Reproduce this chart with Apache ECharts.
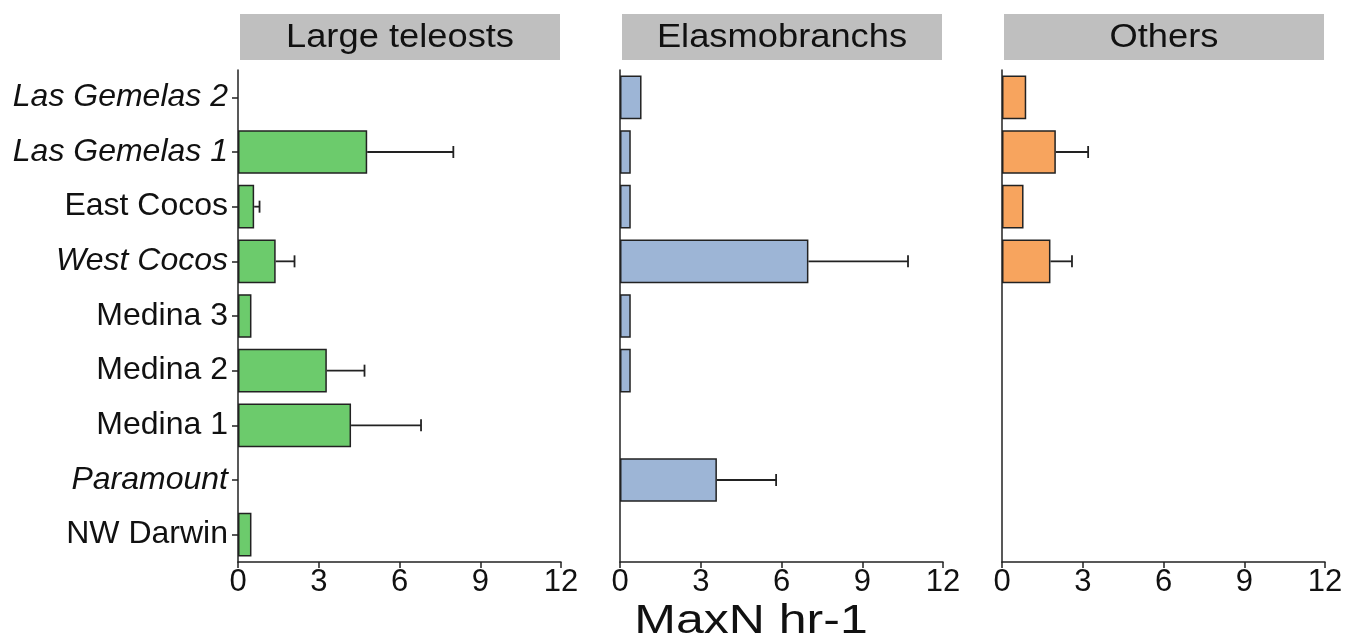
<!DOCTYPE html>
<html><head><meta charset="utf-8">
<script src="https://cdn.jsdelivr.net/npm/echarts@6/dist/echarts.min.js"></script>
<style>html,body{margin:0;padding:0;background:#fff}#c{width:1359px;height:640px}</style>
</head><body><div id="c"></div>
<script>
const categories = ['Las Gemelas 2','Las Gemelas 1','East Cocos','West Cocos','Medina 3','Medina 2','Medina 1','Paramount','NW Darwin'];
const italicCats = ['Las Gemelas 2','Las Gemelas 1','West Cocos','Paramount'];
const panelTitles = ['Large teleosts','Elasmobranchs','Others'];
const teleostMean = [null, 4.8, 0.6, 1.4, 0.5, 3.3, 4.2, null, 0.5];
const teleostErr  = [0, 3.2, 0.2, 0.7, 0, 1.4, 2.6, 0, 0];
const elasmoMean  = [0.8, 0.4, 0.4, 7.0, 0.4, 0.4, null, 3.6, null];
const elasmoErr   = [0, 0, 0, 3.7, 0, 0, 0, 2.2, 0];
const othersMean  = [0.9, 2.0, 0.8, 1.8, null, null, null, null, null];
const othersErr   = [0, 1.2, 0, 0.8, 0, 0, 0, 0, 0];
const xTicks = [0, 3, 6, 9, 12];
const xLabel = 'MaxN hr-1';

const means = [teleostMean, elasmoMean, othersMean];
const errs = [teleostErr, elasmoErr, othersErr];
const colors = ['#6ccb6c', '#9db5d6', '#f7a45e'];
const lefts = [238, 620, 1002];
const W = 323;
const TOP = 70, BOTTOM = 78;
const FONT = 'Liberation Sans, Arial, sans-serif';

const grids = lefts.map(l => ({left: l, width: W, top: TOP, bottom: BOTTOM, containLabel: false}));
const xAxes = lefts.map((l, i) => ({
  gridIndex: i, type: 'value', min: xTicks[0], max: xTicks[xTicks.length-1], interval: 3,
  axisLine: {show: true, lineStyle: {color: '#222', width: 1.5}},
  axisTick: {show: true, length: 6, lineStyle: {color: '#222', width: 1.5}},
  axisLabel: {fontSize: 31, color: '#111', fontFamily: FONT, margin: 5},
  splitLine: {show: false}
}));
const yAxes = lefts.map((l, i) => ({
  gridIndex: i, type: 'category', data: categories, inverse: true,
  axisLine: {show: true, onZero: false, lineStyle: {color: '#222', width: 1.5}},
  axisTick: {show: i === 0, alignWithLabel: true, length: 6, lineStyle: {color: '#222', width: 1.5}},
  axisLabel: i === 0 ? {
    fontSize: 32, color: '#111', fontFamily: FONT, margin: 10,
    formatter: v => italicCats.includes(v) ? '{i|' + v + '}' : '{n|' + v + '}',
    rich: {i: {fontStyle: 'italic', fontSize: 32, fontFamily: FONT, color: '#111'},
           n: {fontSize: 32, fontFamily: FONT, color: '#111'}}
  } : {show: false},
  splitLine: {show: false}
}));

const series = [];
means.forEach((m, i) => {
  series.push({
    type: 'bar', xAxisIndex: i, yAxisIndex: i, data: m, barWidth: '80%',
    itemStyle: {color: colors[i], borderColor: '#222', borderWidth: 1.5},
    silent: true
  });
  const ed = [];
  m.forEach((v, k) => { if (v != null && errs[i][k] > 0) ed.push([v, k, v + errs[i][k]]); });
  series.push({
    type: 'custom', xAxisIndex: i, yAxisIndex: i, data: ed, z: 5,
    encode: {x: [0, 2], y: 1},
    renderItem: (params, api) => {
      const p0 = api.coord([api.value(0), api.value(1)]);
      const p1 = api.coord([api.value(2), api.value(1)]);
      const st = {stroke: '#222', lineWidth: 1.8};
      return {type: 'group', children: [
        {type: 'line', shape: {x1: p0[0], y1: p0[1], x2: p1[0], y2: p1[1]}, style: st},
        {type: 'line', shape: {x1: p1[0], y1: p1[1] - 6, x2: p1[0], y2: p1[1] + 6}, style: st}
      ]};
    }
  });
});

const graphics = [];
lefts.forEach((l, i) => {
  graphics.push({type: 'rect', shape: {x: l + 2, y: 14, width: W - 3, height: 46}, style: {fill: '#bfbfbf'}, silent: true});
  graphics.push({type: 'text', x: l + 2 + (W - 3) / 2, y: 38, scaleX: 1.1, style: {text: panelTitles[i], fontSize: 33, fontFamily: FONT, fill: '#111', textAlign: 'center', textVerticalAlign: 'middle'}, silent: true});
});
graphics.push({type: 'text', x: 751, y: 622, scaleX: 1.25, style: {text: xLabel, fontSize: 40, fontFamily: FONT, fill: '#111', textAlign: 'center', textVerticalAlign: 'middle'}, silent: true});

const chart = echarts.init(document.getElementById('c'), null, {renderer: 'canvas'});
chart.setOption({
  animation: false, backgroundColor: '#fff',
  grid: grids, xAxis: xAxes, yAxis: yAxes, series: series, graphic: graphics
});
</script></body></html>
